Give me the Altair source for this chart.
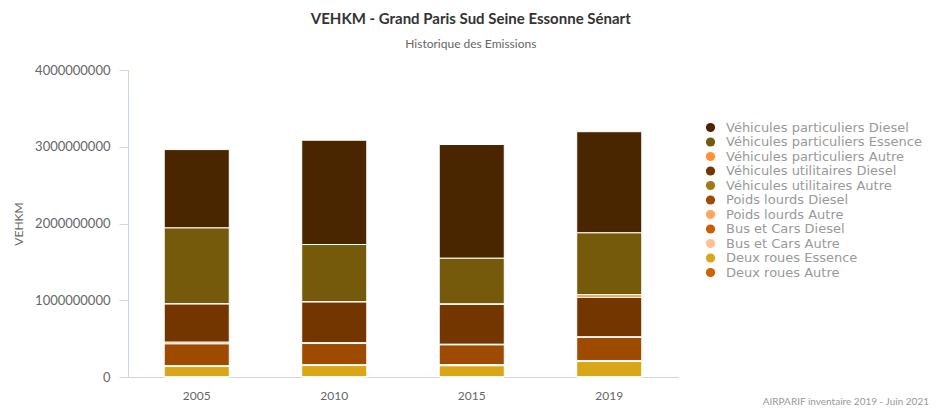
import altair as alt
import pandas as pd

years = ["2005", "2010", "2015", "2019"]
categories = [
    "Véhicules particuliers Diesel",
    "Véhicules particuliers Essence",
    "Véhicules particuliers Autre",
    "Véhicules utilitaires Diesel",
    "Véhicules utilitaires Autre",
    "Poids lourds Diesel",
    "Poids lourds Autre",
    "Bus et Cars Diesel",
    "Bus et Cars Autre",
    "Deux roues Essence",
    "Deux roues Autre",
]
colors = [
    "#4a2600", "#765a0c", "#ff9232", "#733600", "#a07a12",
    "#9e4a00", "#ffa55c", "#c85f00", "#ffc28e", "#d9a617", "#cc6200",
]
# values per category, in order of years
values = {
    "Véhicules particuliers Diesel": [1021e6, 1359e6, 1482e6, 1318e6],
    "Véhicules particuliers Essence": [990e6, 747e6, 596e6, 806e6],
    "Véhicules particuliers Autre": [2e6, 3e6, 5e6, 35e6],
    "Véhicules utilitaires Diesel": [497e6, 530e6, 520e6, 514e6],
    "Véhicules utilitaires Autre": [22e6, 10e6, 8e6, 8e6],
    "Poids lourds Diesel": [285e6, 277e6, 260e6, 300e6],
    "Poids lourds Autre": [1e6, 1e6, 1e6, 2e6],
    "Bus et Cars Diesel": [8e6, 8e6, 10e6, 11e6],
    "Bus et Cars Autre": [1e6, 1e6, 1e6, 1e6],
    "Deux roues Essence": [135e6, 148e6, 145e6, 200e6],
    "Deux roues Autre": [1e6, 1e6, 1e6, 1e6],
}

rows = []
for i, cat in enumerate(categories):
    for j, yr in enumerate(years):
        rows.append({"year": yr, "category": cat, "value": values[cat][j],
                     "rank": len(categories) - 1 - i})
df = pd.DataFrame(rows)

bars = alt.Chart(df).mark_bar(stroke="white", strokeWidth=1).encode(
    x=alt.X("year:N", title=None, sort=years,
            scale=alt.Scale(paddingInner=0.527, paddingOuter=0.2635),
            axis=alt.Axis(labelAngle=0, ticks=False, domainColor="#ccd6eb",
                          labelColor="#666666", labelFontSize=12,
                          labelFont="Lato", labelPadding=13)),
    y=alt.Y("value:Q", title="VEHKM", stack="zero",
            scale=alt.Scale(domain=[0, 4000000000]),
            axis=alt.Axis(values=[0, 1e9, 2e9, 3e9, 4e9], format="d",
                          grid=False, domainColor="#ccd6eb", tickColor="#ccd6eb",
                          tickSize=9, labelPadding=9, labelColor="#666666",
                          labelFontSize=13, labelFont="Lato",
                          titleColor="#666666", titleFont="Lato",
                          titleFontSize=12, titleFontWeight="normal",
                          titlePadding=9)),
    color=alt.Color("category:N", sort=categories,
                    scale=alt.Scale(domain=categories, range=colors),
                    legend=alt.Legend(title=None, orient="none", legendX=576,
                                      legendY=51, symbolType="circle",
                                      symbolSize=85, symbolStrokeWidth=0,
                                      labelFont="DejaVu Sans", labelFontSize=13,
                                      labelColor="#999999", rowPadding=0.5,
                                      labelOffset=9, labelLimit=300)),
    order=alt.Order("rank:Q", sort="ascending"),
)

credit_df = pd.DataFrame({"t": ["AIRPARIF inventaire 2019 - Juin 2021"]})
credit = alt.Chart(credit_df).mark_text(
    align="right", baseline="alphabetic", fontSize=10, font="Lato",
    color="#999999"
).encode(text="t:N", x=alt.value(801), y=alt.value(335))

chart = alt.layer(bars, credit).properties(
    width=550, height=307,
    autosize=alt.AutoSizeParams(type="none"),
    padding={"left": 120, "top": 62, "right": 252, "bottom": 31},
    title=alt.TitleParams(
        text="VEHKM - Grand Paris Sud Seine Essonne Sénart",
        subtitle="Historique des Emissions",
        anchor="middle", frame="bounds", font="Lato", fontSize=15,
        fontWeight="bold", color="#333333", subtitleFont="Lato",
        subtitleFontSize=12, subtitleColor="#666666", subtitlePadding=12,
        offset=14,
    ),
).configure_view(stroke=None)

chart.save("out.html", embed_options={"renderer": "svg", "actions": False})
